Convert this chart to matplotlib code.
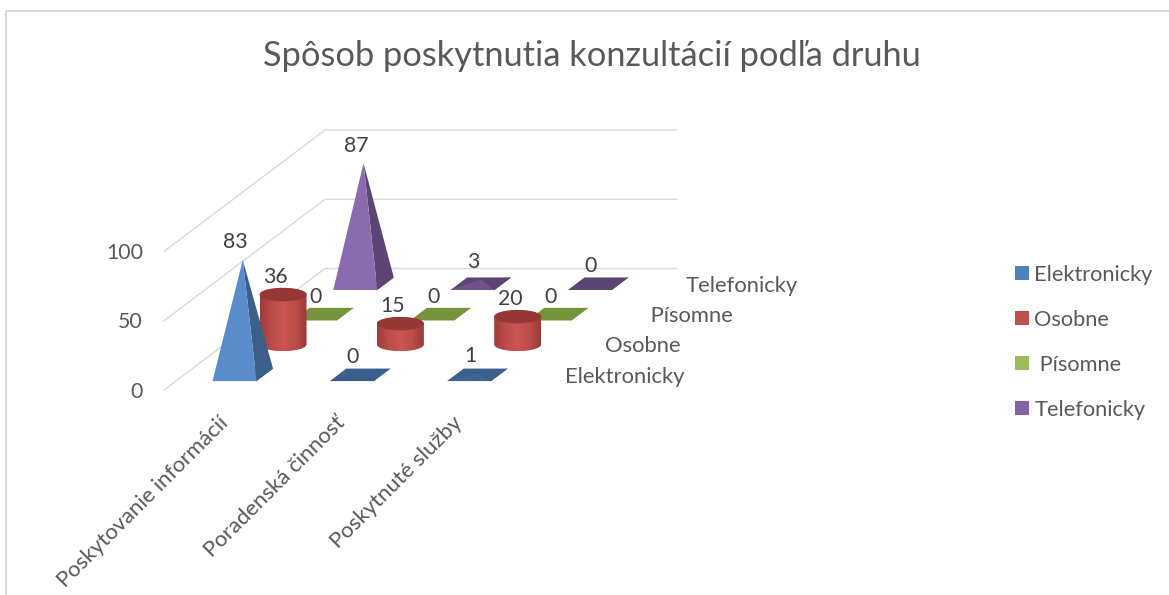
import numpy as np
import matplotlib
matplotlib.use('Agg')
import matplotlib.pyplot as plt
from matplotlib.patches import Patch, PathPatch, Polygon, Ellipse
from matplotlib.path import Path
from matplotlib.colors import LinearSegmentedColormap, to_rgb

plt.rcParams['font.family'] = ['Lato', 'DejaVu Sans']

title = "Spôsob poskytnutia konzultácií podľa druhu"
categories = ["Poskytovanie informácií", "Poradenská činnosť", "Poskytnuté služby"]
series_names = ["Elektronicky", "Osobne", " Písomne", "Telefonicky"]
elektronicky = [83, 0, 1]
osobne = [36, 15, 20]
pisomne = [0, 0, 0]
telefonicky = [87, 3, 0]
value_ticks = [0, 50, 100]

text_color = '#595959'
grid_color = '#D9D9D9'
legend_colors = ['#4F81BD', '#C0504D', '#9BBB59', '#8064A2']
front_colors = ['#5A8CCB', '#C0504D', '#76923C', '#8A6BAE']
side_colors = ['#3A5F8B', '#953735', '#76923C', '#5C4474']

# oblique projection of the excel 3d box, in pixels of the figure
ORIGIN_X, ORIGIN_Y = 164.0, 390.0
DEPTH_X, DEPTH_Y = 161.0, -121.5
WIDTH_X = 352.0
PX_PER_UNIT = 1.385
BAR_FRONT = 44.0
BAR_DEPTH = 0.41

n_cat = len(categories)
n_ser = len(series_names)


def project(cat, ser, val=0.0):
    # cat and ser are in box units (cell i spans i..i+1)
    x = ORIGIN_X + WIDTH_X * cat / n_cat + DEPTH_X * ser / n_ser
    y = ORIGIN_Y + DEPTH_Y * ser / n_ser - PX_PER_UNIT * val
    return x, y


def draw_pyramid(ax, cat, ser, val, front, side, z):
    cx, cy = project(cat + 0.5, ser + 0.5)
    dx = DEPTH_X / n_ser * BAR_DEPTH / 2
    dy = DEPTH_Y / n_ser * BAR_DEPTH / 2
    hw = BAR_FRONT / 2
    fl = (cx - hw - dx, cy - dy)
    fr = (cx + hw - dx, cy - dy)
    br = (cx + hw + dx, cy + dy)
    bl = (cx - hw + dx, cy + dy)
    apex = (cx, cy - PX_PER_UNIT * val)
    # nearly flat pyramids hardly show the light front face
    t = min(val / 8.0, 1.0)
    face = tuple((1 - t) * a + t * b for a, b in zip(to_rgb(side), to_rgb(front)))
    ax.add_patch(Polygon([fl, fr, br, bl], fc=side, ec='none', zorder=z))
    ax.add_patch(Polygon([fr, br, apex], fc=side, ec='none', zorder=z))
    ax.add_patch(Polygon([fl, fr, apex], fc=face, ec='none', zorder=z))


def draw_cylinder(ax, cat, ser, val, z):
    cx, cy = project(cat + 0.5, ser + 0.5)
    rx, ry = 23.5, 6.7
    top = cy - PX_PER_UNIT * val
    t = np.linspace(0, np.pi, 40)
    lower = np.column_stack([cx + rx * np.cos(t), cy + ry * np.sin(t)])
    upper = np.column_stack([cx - rx * np.cos(t), top - ry * np.sin(t)])
    outline = np.vstack([lower, upper, lower[:1]])
    body = LinearSegmentedColormap.from_list('body', ['#9C3D3A', '#BC4D4A', '#CB5552', '#BC4D4A', '#9A3B38'])
    grad = np.linspace(0, 1, 64).reshape(1, -1)
    im = ax.imshow(grad, cmap=body, extent=(cx - rx, cx + rx, cy + ry, top - ry), aspect='auto', zorder=z)
    im.set_clip_path(PathPatch(Path(outline), transform=ax.transData))
    ax.add_patch(Ellipse((cx, top), 2 * rx, 2 * ry, fc='#953735', ec='none', zorder=z + 0.1))


fig = plt.figure(figsize=(11.69, 5.95), dpi=100)
ax = fig.add_axes([0, 0, 1, 1])
ax.axis('off')

# chart area border, only top and left show
ax.plot([6, 6, 1169], [595, 11, 11], color=grid_color, lw=1.5, zorder=1)

ax.text(592, 56, title, fontsize=24.75, color=text_color, ha='center', va='center')

# value grid, back wall and side wall
for v in value_ticks:
    x0, y0 = project(0, 0, v)
    x1, y1 = project(0, n_ser, v)
    x2, y2 = project(n_cat, n_ser, v)
    ax.plot([x0, x1, x2], [y0, y1, y2], color=grid_color, lw=1.0, zorder=2)
    ax.text(x0 - 21, y0 + 1.5, str(v), fontsize=15.3, color=text_color, ha='right', va='center')

values = [elektronicky, osobne, pisomne, telefonicky]

# back series first so nearer ones cover them
for s in range(n_ser - 1, -1, -1):
    z = 10 + (n_ser - s)
    for c in range(n_cat):
        v = values[s][c]
        if s == 1:
            draw_cylinder(ax, c, s, v, z)
        else:
            draw_pyramid(ax, c, s, v, front_colors[s], side_colors[s], z)
        lx, ly = project(c + 0.5, s + 0.5, v)
        ax.text(lx - 7.5, ly - 17.5, str(v), fontsize=15.3, color='#404040', ha='center', va='center', zorder=50)

for s, name in enumerate(series_names):
    lx, ly = project(n_cat, s + 0.5)
    ax.text(lx + 28.5, ly + 2, name, fontsize=15.8, color=text_color, ha='left', va='center')

for c, name in enumerate(categories):
    lx, ly = project(c + 0.5, 0)
    ax.text(lx - 5, ly + 23, name, fontsize=15.9, color=text_color, rotation=45, rotation_mode='anchor', ha='right', va='top')

handles = [Patch(fc=col, ec='none') for col in legend_colors]
ax.legend(handles, series_names, loc='upper left', bbox_to_anchor=(1015, 264.6), bbox_transform=ax.transData,
          frameon=False, fontsize=15.7, labelcolor=text_color, handlelength=0.64, handleheight=0.64,
          handletextpad=0.25, labelspacing=1.15, borderpad=0, borderaxespad=0)

ax.set_xlim(0, 1169)
ax.set_ylim(595, 0)
fig.savefig('out.png', dpi=100)
